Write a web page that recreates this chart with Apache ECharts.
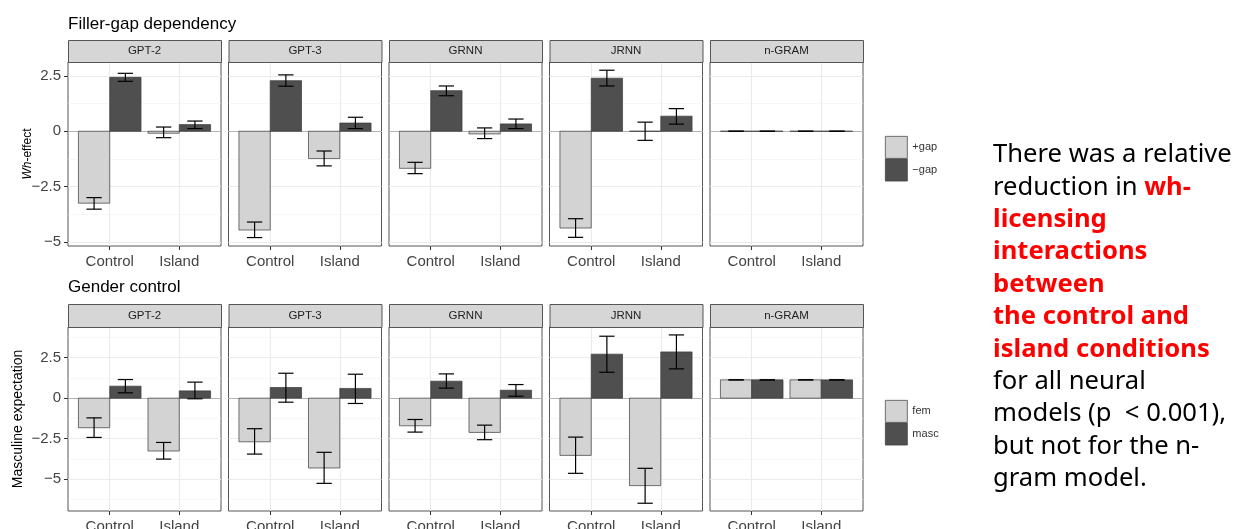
<!DOCTYPE html>
<html><head><meta charset="utf-8">
<script src="https://cdn.jsdelivr.net/npm/echarts@6/dist/echarts.min.js"></script>
<style>html,body{margin:0;padding:0;background:#fff}#c{width:1242px;height:529px}</style>
</head><body><div id="c"></div>
<script>
// ---------- data ----------
const models = ['GPT-2', 'GPT-3', 'GRNN', 'JRNN', 'n-GRAM'];
const conditions = ['Control', 'Island'];
const yTicks = [-5, -2.5, 0, 2.5];
const fgMinorTicks = [-3.75, -1.25, 1.25];
const gcMinorTicks = [-6.25, -3.75, -1.25, 1.25, 3.75];

// Filler-gap dependency: per model [Control, Island]
const fgPlusGapMean  = [[-3.24, -0.09], [-4.45, -1.23], [-1.67, -0.12], [-4.36, 0.00], [0, 0]];
const fgPlusGapLo    = [[-3.51, -0.29], [-4.79, -1.56], [-1.91, -0.33], [-4.78, -0.41], [0, 0]];
const fgPlusGapHi    = [[-2.99,  0.19], [-4.09, -0.89], [-1.40,  0.15], [-3.94,  0.41], [0, 0]];
const fgMinusGapMean = [[2.43, 0.30], [2.28, 0.37], [1.83, 0.33], [2.39, 0.68], [0, 0]];
const fgMinusGapLo   = [[2.25, 0.12], [2.03, 0.12], [1.60, 0.12], [2.04, 0.32], [0, 0]];
const fgMinusGapHi   = [[2.61, 0.46], [2.54, 0.63], [2.04, 0.55], [2.75, 1.02], [0, 0]];

// Gender control: per model [Control, Island]
const gcFemMean  = [[-1.83, -3.27], [-2.70, -4.32], [-1.71, -2.12], [-3.54, -5.41], [1.13, 1.13]];
const gcFemLo    = [[-2.43, -3.77], [-3.46, -5.27], [-2.10, -2.57], [-4.65, -6.50], [1.13, 1.13]];
const gcFemHi    = [[-1.22, -2.74], [-1.89, -3.35], [-1.32, -1.67], [-2.41, -4.34], [1.13, 1.13]];
const gcMascMean = [[0.74, 0.45], [0.66, 0.60], [1.05, 0.49], [2.72, 2.86], [1.13, 1.13]];
const gcMascLo   = [[0.33, -0.04], [-0.25, -0.33], [0.62, 0.12], [1.60, 1.81], [1.13, 1.13]];
const gcMascHi   = [[1.15, 0.99], [1.54, 1.48], [1.50, 0.84], [3.83, 3.91], [1.13, 1.13]];

// ---------- layout ----------
const panelLefts = [68, 228.5, 389, 549.5, 710];
const panelW = 153;
const rows = [
  { title: 'Filler-gap dependency', titleTop: 16, stripTop: 40, top: 62, h: 184, min: -5.17, max: 3.12,
    minors: fgMinorTicks, yName: '{i|Wh}-effect', yNameSize: 12, yNameGap: 34,
    groups: [['+gap', '#d3d3d3', fgPlusGapMean, fgPlusGapLo, fgPlusGapHi],
             ['\u2212gap', '#4f4f4f', fgMinusGapMean, fgMinusGapLo, fgMinusGapHi]] },
  { title: 'Gender control', titleTop: 279, stripTop: 304, top: 327, h: 184, min: -6.98, max: 4.4,
    minors: gcMinorTicks, yName: 'Masculine expectation', yNameSize: 14, yNameGap: 43,
    groups: [['fem', '#d3d3d3', gcFemMean, gcFemLo, gcFemHi],
             ['masc', '#4f4f4f', gcMascMean, gcMascLo, gcMascHi]] }
];
const FONT = 'Liberation Sans, Arial, sans-serif';
const fmtY = v => (v < 0 ? '\u2212' + String(-v) : String(v));

function makeRender(side, color) {
  return function (params, api) {
    const x = api.value(0), v = api.value(1), lo = api.value(2), hi = api.value(3);
    const xa = side < 0 ? x - 0.45 : x, xb = side < 0 ? x : x + 0.45;
    const p0 = api.coord([xa, 0]), p1 = api.coord([xb, v]);
    const cx = x + side * 0.225;
    const pl = api.coord([cx, lo]), ph = api.coord([cx, hi]);
    const cl = api.coord([cx - 0.11, lo]), cr = api.coord([cx + 0.11, lo]);
    const hl = api.coord([cx - 0.11, hi]), hr = api.coord([cx + 0.11, hi]);
    const eb = { stroke: '#000', lineWidth: 1.2 };
    return { type: 'group', children: [
      { type: 'rect', shape: { x: Math.min(p0[0], p1[0]), y: Math.min(p0[1], p1[1]),
          width: Math.abs(p1[0] - p0[0]), height: Math.abs(p1[1] - p0[1]) },
        style: { fill: color, stroke: '#3a3a3a', lineWidth: 0.7 } },
      { type: 'line', shape: { x1: pl[0], y1: pl[1], x2: ph[0], y2: ph[1] }, style: eb },
      { type: 'line', shape: { x1: cl[0], y1: cl[1], x2: cr[0], y2: cr[1] }, style: eb },
      { type: 'line', shape: { x1: hl[0], y1: hl[1], x2: hr[0], y2: hr[1] }, style: eb }
    ] };
  };
}

const grid = [], xAxis = [], yAxis = [], series = [], graphic = [], title = [], legend = [];
rows.forEach((row, r) => {
  title.push({ text: row.title, left: 68, top: row.titleTop, padding: 0,
    textStyle: { fontFamily: FONT, fontSize: 17, fontWeight: 'normal', color: '#000' } });
  models.forEach((m, c) => {
    const g = grid.length;
    grid.push({ left: panelLefts[c], top: row.top, width: panelW, height: row.h,
      show: true, borderColor: '#555', borderWidth: 1, backgroundColor: '#fff',
      containLabel: false, outerBoundsMode: 'none' });
    xAxis.push({ type: 'value', gridIndex: g, min: -0.6, max: 1.6,
      axisLine: { show: false, onZero: false },
      axisTick: { show: true, customValues: [0, 1], length: 4, lineStyle: { color: '#333' } },
      axisLabel: { show: true, customValues: [0, 1], formatter: v => conditions[Math.round(v)],
        fontFamily: FONT, fontSize: 15, color: '#444', margin: 8 },
      splitLine: { show: true, lineStyle: { color: '#ebebeb', width: 1.1 } } });
    const first = c === 0;
    yAxis.push({ type: 'value', gridIndex: g, min: row.min, max: row.max,
      axisLine: { show: false, onZero: false },
      axisTick: { show: first, customValues: yTicks, length: 4, lineStyle: { color: '#333' } },
      axisLabel: { show: first, customValues: yTicks, formatter: fmtY,
        fontFamily: FONT, fontSize: 15, color: '#444', margin: 7 },
      splitLine: { show: true, lineStyle: { color: '#ebebeb', width: 1.1 } },
      name: first ? row.yName : '', nameLocation: 'middle', nameGap: row.yNameGap,
      nameMoveOverlap: false,
      nameTextStyle: { fontFamily: FONT, fontSize: row.yNameSize, color: '#000',
        rich: { i: { fontFamily: FONT, fontSize: row.yNameSize, fontStyle: 'italic', color: '#000' } } } });
    yAxis.push({ type: 'value', gridIndex: g, min: row.min, max: row.max,
      axisLine: { show: false, onZero: false }, axisLabel: { show: false },
      axisTick: { show: false, customValues: row.minors },
      splitLine: { show: true, lineStyle: { color: '#f2f2f2', width: 0.6 } } });
    row.groups.forEach((grp, k) => {
      const [name, color, mean, lo, hi] = grp;
      const data = conditions.map((cond, i) => [i, mean[c][i], lo[c][i], hi[c][i]]);
      const s = { type: 'custom', name, xAxisIndex: g, yAxisIndex: 2 * g,
        itemStyle: { color, borderColor: '#3a3a3a', borderWidth: 0.7 },
        renderItem: makeRender(k === 0 ? -1 : 1, color), data, z: 3 };
      if (k === 0) {
        s.markLine = { silent: true, symbol: 'none', label: { show: false },
          lineStyle: { color: '#b3b3b3', width: 1, type: 'solid' }, data: [{ yAxis: 0 }], z: 2 };
      }
      series.push(s);
    });
    // strip
    graphic.push({ type: 'rect', left: panelLefts[c], top: row.stripTop, z: 10,
      shape: { width: panelW, height: row.top - row.stripTop },
      style: { fill: '#d6d6d6', stroke: '#555', lineWidth: 1 } });
    graphic.push({ type: 'text', x: panelLefts[c] + panelW / 2, y: (row.stripTop + row.top) / 2, z: 11,
      style: { text: m, fill: '#222', font: '11.5px ' + FONT, textAlign: 'center', textVerticalAlign: 'middle' } });
  });
  legend.push({ data: row.groups.map(g => g[0]), orient: 'vertical', left: 885, top: r === 0 ? 136 : 400,
    padding: 0, itemWidth: 22, itemHeight: 22, itemGap: 0, icon: 'rect', selectedMode: false,
    itemStyle: { borderColor: '#3a3a3a', borderWidth: 0.7 },
    textStyle: { fontFamily: FONT, fontSize: 11, color: '#333' } });
});

// annotation text
const R = s => '{r|' + s + '}', N = s => '{n|' + s + '}';
const noteLines = [
  N('There was a relative'),
  N('reduction in ') + R('wh-'),
  R('licensing'),
  R('interactions'),
  R('between'),
  R('the control and'),
  R('island conditions'),
  N('for all neural'),
  N('models (p  < 0.001),'),
  N('but not for the n-'),
  N('gram model.')
];
graphic.push({ type: 'text', left: 993, top: 142, z: 20,
  style: { text: noteLines.join('\n'),
    rich: {
      n: { fontFamily: 'Noto Sans, sans-serif', fontSize: 25.6, lineHeight: 32.4, fill: '#000' },
      r: { fontFamily: 'Noto Sans, sans-serif', fontSize: 25.6, lineHeight: 32.4, fill: '#ff0000', fontWeight: 'bold' }
    } } });

const chart = echarts.init(document.getElementById('c'), null, { renderer: 'canvas' });
chart.setOption({ animation: false, backgroundColor: '#fff', title, grid, xAxis, yAxis, series, graphic, legend });
</script></body></html>
